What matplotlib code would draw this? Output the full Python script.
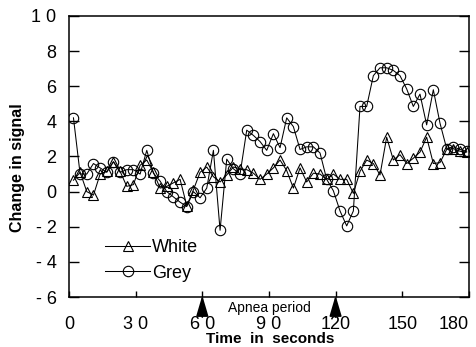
import numpy as np
import matplotlib.pyplot as plt

plt.rcParams['font.family'] = ['Liberation Sans', 'DejaVu Sans']

# sample times (s)
time = [2, 5, 8, 11, 14, 17, 20, 23, 26, 29,
        32, 35, 38, 41, 44, 47, 50, 53, 56, 59,
        62, 65, 68, 71, 74, 77, 80, 83, 86, 89,
        92, 95, 98, 101, 104, 107, 110, 113, 116, 119,
        122, 125, 128, 131, 134, 137, 140, 143, 146, 149,
        152, 155, 158, 161, 164, 167, 170, 173, 176, 179]

white = [0.65, 1.1, 0.0, -0.2, 1.0, 1.15, 1.7, 1.15, 0.3, 0.4,
         1.5, 1.8, 1.1, 0.2, 0.3, 0.5, 0.7, -0.8, 0.1, 1.1,
         1.4, 0.85, 0.55, 0.95, 1.4, 1.3, 1.25, 1.05, 0.7, 1.0,
         1.35, 1.8, 1.2, 0.2, 1.35, 0.55, 1.05, 1.0, 0.7, 1.0,
         0.7, 0.7, -0.1, 1.15, 1.8, 1.6, 0.95, 3.1, 1.8, 2.1,
         1.6, 1.9, 2.25, 3.1, 1.6, 1.65, 2.4, 2.45, 2.3, 2.25]

grey = [4.2, 1.0, 1.0, 1.6, 1.35, 1.1, 1.7, 1.1, 1.25, 1.25,
        1.0, 2.35, 1.05, 0.6, 0.0, -0.3, -0.6, -0.85, 0.0, -0.35,
        0.2, 2.35, -2.2, 1.85, 1.3, 1.0, 3.5, 3.2, 2.85, 2.35,
        3.3, 2.5, 4.2, 3.7, 2.4, 2.55, 2.55, 2.2, 0.7, 0.05,
        -1.1, -1.95, -1.1, 4.85, 4.85, 6.6, 7.05, 7.05, 6.9, 6.6,
        5.85, 4.85, 5.55, 3.8, 5.8, 3.9, 2.45, 2.55, 2.4, 2.3]

xticks = [0, 30, 60, 90, 120, 150, 180]
xlabels = ["0", "3 0", "6 0", "9 0", "120", "150", "180"]
yticks = [-6, -4, -2, 0, 2, 4, 6, 8, 10]
ylabels = ["- 6", "- 4", "- 2", "0", "2", "4", "6", "8", "1 0"]
apnea = [60, 120]

fig = plt.figure(figsize=(4.76, 3.47), dpi=100)
ax = fig.add_axes([0.145, 0.144, 0.84, 0.81])

ax.plot(time, white, color='k', lw=0.75, marker='^', ms=6.5,
        mfc='none', mec='k', mew=0.8, label='White')
ax.plot(time, grey, color='k', lw=0.75, marker='o', ms=7.5,
        mfc='none', mec='k', mew=0.8, label='Grey')

ax.set_xlim(0, 180)
ax.set_ylim(-6, 10)
ax.set_xticks(xticks)
ax.set_xticklabels(xlabels, fontsize=13)
ax.get_xticklabels()[-1].set_ha('right')
ax.set_yticks(yticks)
ax.set_yticklabels(ylabels, fontsize=13)
ax.tick_params(axis='y', direction='in', length=7, width=1, left=True, right=True, pad=9)
ax.tick_params(axis='x', direction='in', length=4, width=1, pad=14)
for s in ax.spines.values():
    s.set_linewidth(1.1)

ax.set_ylabel("Change in signal", fontsize=11.5, fontweight='bold', va='center')
ax.yaxis.set_label_coords(-0.128, 0.46)
ax.set_xlabel("Time  in  seconds", fontsize=11, fontweight='bold', va='center')
ax.xaxis.set_label_coords(0.5025, -0.149)

# apnea period markers under the axis
for a in apnea:
    ax.annotate('', xy=(a, -5.75), xytext=(a, -7.3), annotation_clip=False,
                arrowprops=dict(arrowstyle='-|>,head_length=0.85,head_width=0.25',
                                color='k', lw=1.2, mutation_scale=15))
ax.text(90, -6.63, "Apnea period", ha='center', va='center', fontsize=10)

ax.legend(loc='center left', bbox_to_anchor=(0.09, 0.13), frameon=False,
          fontsize=13, handlelength=2.5, handletextpad=0.1, labelspacing=0.45,
          borderpad=0, borderaxespad=0)

fig.savefig('out.png', dpi=100)
